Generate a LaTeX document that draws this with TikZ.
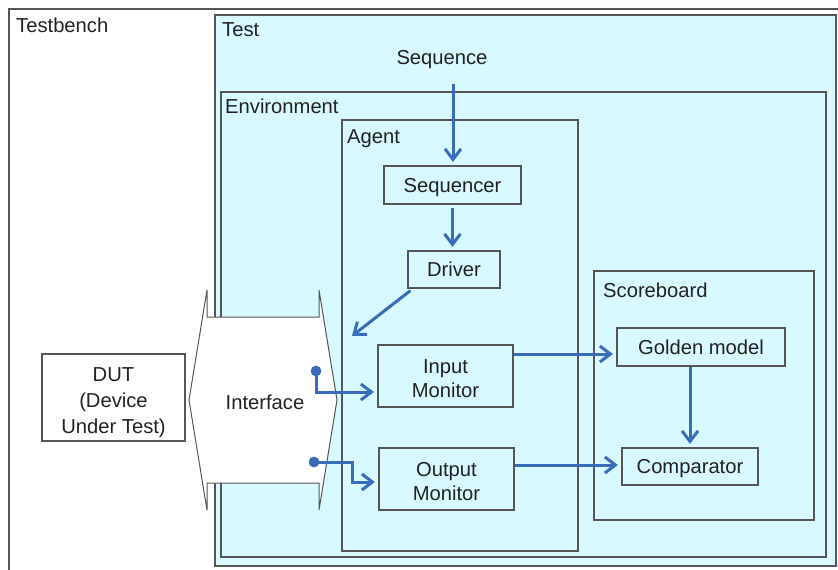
\documentclass[tikz,border=0pt]{standalone}
\usepackage{fontspec}
\setmainfont{Liberation Sans}
\usetikzlibrary{arrows.meta}
\definecolor{panel}{HTML}{D7F9FF}
\definecolor{edge}{HTML}{555555}
\definecolor{ink}{HTML}{222222}
\definecolor{flowblue}{HTML}{3A6CBA}
\tikzset{
  txt/.style={font=\fontsize{20.2}{24}\selectfont, text=ink, inner sep=0pt},
  oneline/.style={text height=14.5pt, text depth=0pt},
  lbl/.style={txt, anchor=base west},
  frame/.style={draw=edge, line width=1.3pt, fill=panel},
  unit/.style={txt, draw=edge, line width=1.3pt, fill=panel, align=center},
  flow/.style={draw=flowblue, line width=3pt,
    -{Straight Barb[length=10.5pt,width=16pt,line width=3pt]}, shorten >=3.5pt},
  tap/.style={fill=flowblue, draw=none},
}
\begin{document}
\begin{tikzpicture}[x=1pt,y=-1pt]
\useasboundingbox (0,0) rectangle (838,570);
\clip (0,0) rectangle (838,570);

% nested containers
\draw[draw=edge, line width=1.3pt, fill=white] (9,9) rectangle (860,590);
\node[lbl] (tbname) at (16,32) {Testbench};
\draw[frame] (215,15) rectangle (836,566);
\node[lbl] (testname) at (222,36) {Test};
\draw[frame] (221,92) rectangle (826,557);
\node[lbl] (envname) at (225,113) {Environment};
\draw[frame] (342,120) rectangle (578,551);
\node[lbl] (agentname) at (347,143) {Agent};
\draw[frame] (594,271) rectangle (814,520);
\node[lbl] (sbname) at (603,297) {Scoreboard};

% sequence source
\node[txt, oneline] (sequence) at (442,57) {Sequence};
\coordinate (seqsrc) at (453,84);

% components
\node[unit, oneline, minimum width=137pt, minimum height=38pt] (sequencer) at (452.5,185) {Sequencer};
\node[unit, oneline, minimum width=92pt, minimum height=37pt] (driver) at (454,269.5) {Driver};
\node[unit, minimum width=135pt, minimum height=62pt] (inmon) at (445.5,376) {\rule{0pt}{20pt}Input\\Monitor};
\node[unit, minimum width=135pt, minimum height=62pt] (outmon) at (446.5,479) {\rule{0pt}{20pt}Output\\Monitor};
\node[unit, oneline, minimum width=168pt, minimum height=38pt] (golden) at (701,347) {Golden model};
\node[unit, oneline, minimum width=136pt, minimum height=37pt] (comp) at (690,466.5) {Comparator};

% device under test
\node[unit, fill=white, minimum width=143pt, minimum height=87pt, font=\fontsize{20.2}{26}\selectfont]
  (dut) at (113.5,397.5) {\rule{0pt}{24pt}DUT\\(Device\\Under Test)};

% interface: double-headed block arrow
\draw[draw=edge, line width=1pt, fill=white]
  (207,290) -- (189,400) -- (207,510) -- (207,483) -- (319,483) -- (319,510)
  -- (337,400) -- (319,290) -- (319,317) -- (207,317) -- cycle;
\node[txt, oneline] (iface) at (265,402) {Interface};

% connection points on the interface
\coordinate (indot) at (316,371);
\coordinate (outdot) at (314,462);
\coordinate (outbend) at (352,462);
\coordinate (drvsink) at (352,336);
\fill[tap] (indot) circle (5.4pt);
\fill[tap] (outdot) circle (5.4pt);

% data flow
\draw[flow] (seqsrc) -- (seqsrc |- sequencer.north);
\draw[flow] ([yshift=-3pt]sequencer.south) -- (sequencer.south |- driver.north);
\draw[flow, shorten >=0pt] ([xshift=3pt,yshift=-2pt]driver.south west) -- (drvsink);
\draw[flow] (indot) |- ([yshift=-16pt]inmon.west);
\draw[flow] (outdot) -- (outbend) |- ([yshift=-3pt]outmon.west);
\draw[flow] ([yshift=22pt]inmon.east) -- ([yshift=22pt]inmon.east -| golden.west);
\draw[flow] ([yshift=14pt]outmon.east) -- ([yshift=14pt]outmon.east -| comp.west);
\draw[flow] (comp.north |- golden.south) -- (comp.north);
\end{tikzpicture}
\end{document}
